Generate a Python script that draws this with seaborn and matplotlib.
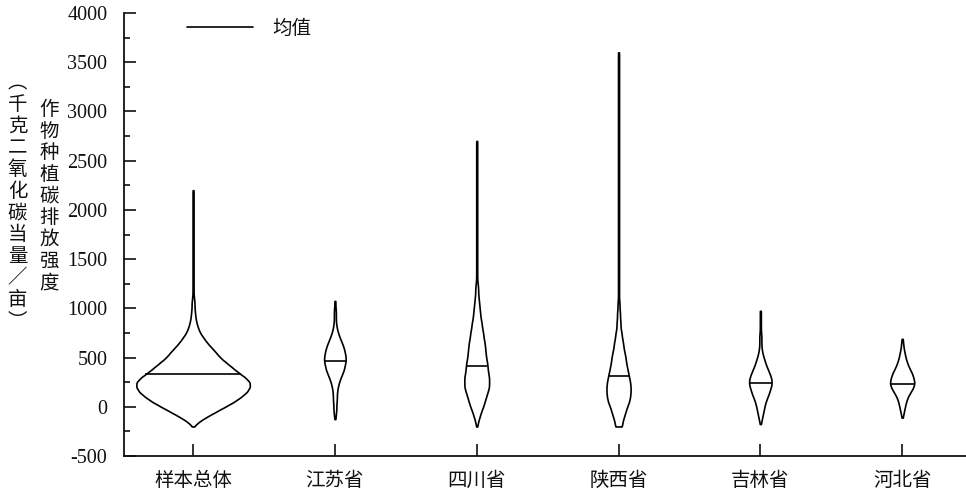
import numpy as np
import pandas as pd
import matplotlib
matplotlib.use("Agg")
import matplotlib.pyplot as plt
from matplotlib.lines import Line2D
from matplotlib.ticker import MultipleLocator
import seaborn as sns

# Categories on the x axis
regions = ["样本总体", "江苏省", "四川省", "陕西省", "吉林省", "河北省"]

# Emission-intensity frequency tables: lowest level of each group and the
# number of households per 50 kgCO2e/亩 step upward from it
BIN_STEP = 50
total_start = -200
total_counts = [1, 12, 28, 46, 64, 82, 96, 108, 114, 114, 104, 90, 78, 66, 54,
                46, 37, 28, 21, 14, 10, 7, 5, 4, 3, 3, 2,
                1, 1, 1, 1, 1, 1, 1, 1,
                1, 1, 1, 1, 1, 1, 1, 1, 1, 1, 1, 1, 1, 1]
jiangsu_start = -125
jiangsu_counts = [1, 2, 3, 3, 4, 4, 5, 7, 10, 14, 18, 20, 22, 21, 19, 16, 12, 8,
                  5, 3, 2, 2, 2, 1, 1]
sichuan_start = -200
sichuan_counts = [1, 3, 6, 9, 13, 16, 19, 22, 25, 25, 25, 23, 22, 21, 19, 18, 17,
                  16, 14, 13, 11, 10, 8, 7, 6, 5, 4, 3, 3, 2,
                  1, 1, 1, 1, 1, 1, 1,
                  1, 1, 1, 1, 1, 1, 1, 1, 1, 1, 1, 1, 1, 1, 1, 1, 1, 1, 1, 1, 1, 1]
shaanxi_start = -200
shaanxi_counts = [7, 8, 11, 14, 17, 21, 23, 24, 24, 23, 21, 19, 17, 15, 14, 12, 10,
                  9, 7, 6, 4, 4, 3, 3,
                  2, 2, 1, 1, 1, 1, 1, 1, 1, 1, 1, 1, 1,
                  1, 1, 1, 1, 1, 1, 1, 1, 1, 1, 1, 1, 1, 1, 1, 1, 1, 1, 1, 1,
                  1, 1, 1, 1, 1, 1, 1, 1, 1, 1, 1, 1, 1, 1, 1, 1, 1, 1, 1, 1]
jilin_start = -175
jilin_counts = [1, 3, 5, 7, 9, 12, 16, 19, 22, 22, 19, 15, 11, 8, 5, 3,
                2, 2, 2, 1, 1, 1, 1, 1]
hebei_start = -110
hebei_counts = [1, 3, 5, 7, 10, 15, 21, 24, 22, 19, 14, 10, 7, 5, 3, 2, 1]

# Group means (kgCO2e/亩)
mean_values = [330, 468, 417, 313, 245, 233]

y_ticks = [-500, 0, 500, 1000, 1500, 2000, 2500, 3000, 3500, 4000]

starts = [total_start, jiangsu_start, sichuan_start, shaanxi_start, jilin_start, hebei_start]
counts = [total_counts, jiangsu_counts, sichuan_counts, shaanxi_counts, jilin_counts, hebei_counts]

# Violin widths (category units) and kernel bandwidth (data units)
violin_widths = [0.80, 0.152, 0.175, 0.17, 0.158, 0.17]
KDE_BW = 30

sns.set_style("ticks")
plt.rcParams["font.family"] = ["Noto Sans CJK SC", "DejaVu Sans"]
plt.rcParams["axes.unicode_minus"] = False

INK = "#111111"

fig = plt.figure(figsize=(9.66, 4.97), dpi=100)
ax = fig.add_axes([124 / 966, 41 / 497, (966 - 124) / 966, (456 - 13) / 497])

for i, (region, start, cnt) in enumerate(zip(regions, starts, counts)):
    levels = start + BIN_STEP * np.arange(len(cnt))
    values = np.repeat(levels, cnt).astype(float)
    df = pd.DataFrame({"region": region, "value": values})
    sns.violinplot(data=df, x="region", y="value", order=regions,
                   width=violin_widths[i], density_norm="width", cut=0,
                   inner=None, gridsize=1200,
                   bw_method=KDE_BW / np.std(values, ddof=1),
                   color="white", saturation=1, linecolor="black",
                   linewidth=1.2, ax=ax)
    poly = ax.collections[-1]
    verts = poly.get_paths()[0].vertices
    right = verts[verts[:, 0] > i + 1e-9]
    order = np.argsort(right[:, 1])
    half = np.interp(mean_values[i], right[order, 1], right[order, 0]) - i
    ax.plot([i - half, i + half], [mean_values[i], mean_values[i]],
            color="black", lw=1.2, solid_capstyle="butt", zorder=3)

ax.set_xlim(-0.487, 5.45)
ax.set_ylim(-500, 4000)
ax.set_yticks(y_ticks)
ax.set_yticklabels([str(t) for t in y_ticks], fontfamily="Liberation Serif",
                   fontsize=14.5)
ax.yaxis.set_minor_locator(MultipleLocator(250))
ax.set_xlabel("")
ax.set_ylabel("")

for side in ("top", "right"):
    ax.spines[side].set_visible(False)
for side in ("left", "bottom"):
    ax.spines[side].set_linewidth(1.3)
    ax.spines[side].set_color(INK)

ax.tick_params(axis="y", which="major", direction="in", length=8.5, width=1.2,
               pad=12, colors=INK)
ax.tick_params(axis="y", which="minor", direction="in", length=4, width=1.2,
               colors=INK)
ax.tick_params(axis="x", which="major", direction="in", length=9, width=1.2,
               pad=10, labelsize=14, colors=INK)

handle = Line2D([0], [0], color="black", lw=1.2)
ax.legend([handle], ["均值"], frameon=False, loc="center left",
          bbox_to_anchor=(0.075, 0.966), handlelength=3.4, handletextpad=1.0,
          borderpad=0, borderaxespad=0, fontsize=14, labelcolor=INK)

# Y axis title as two columns of stacked characters
fig.text(49 / 966, 1 - 196 / 497, "\n".join("作物种植碳排放强度"),
         ha="center", va="center", fontsize=14, linespacing=1.04,
         color=INK)
fig.text(17.5 / 966, 1 - 202 / 497, "\n".join("︵千克二氧化碳当量／亩︶"),
         ha="center", va="center", fontsize=14, linespacing=1.04,
         color=INK)

fig.savefig("out.png", dpi=100, facecolor="white")
